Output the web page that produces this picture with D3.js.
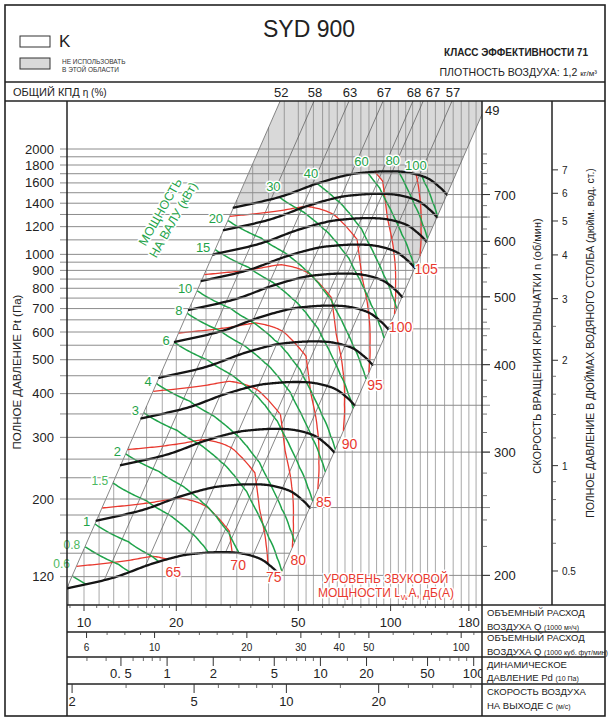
<!DOCTYPE html>
<html>
<head>
<meta charset="utf-8">
<script src="https://cdn.jsdelivr.net/npm/d3@7"></script>
<style>
body { margin: 0; background: #fff; }
text { font-family: "Liberation Sans", Arial, sans-serif; }
</style>
</head>
<body>
<div id="chart"></div>
<script>
// fan curve at 200 rpm: flow (1000 m3/h), total pressure (Pa), shaft power (kW), sound power dB(A)
var baseSpeed = 200;
var baseQ  = [8.8, 12.4, 16.4, 20.6, 23.9, 27.8, 32.3, 37.5, 41.3, 43.6];
var baseP  = [111, 119, 130, 137.5, 140, 141, 140, 135, 127, 121];
var baseW  = [0.53, 0.70, 0.93, 1.19, 1.39, 1.65, 2.02, 2.45, 2.72, 2.88];
var baseLw = [63.1, 63.6, 64.3, 65.6, 66.8, 68.2, 71.2, 73.8, 76.0, 77.6];
var soundSlope = 60;          // dB per decade of speed
var speeds = [200, 250, 300, 350, 400, 450, 500, 550, 600, 650, 700];

// efficiency lines P = k*Q^2
var effLabels = [52, 58, 63, 67, 68, 67, 57, 49];
var effK = [1.44, 0.866, 0.512, 0.307, 0.196, 0.168, 0.109, 0.0636];

var powerLevels = [0.6, 0.8, 1, 1.5, 2, 3, 4, 6, 8, 10, 15, 20, 30, 40, 60, 80, 100];
var soundLevels = [65, 70, 75, 80, 85, 90, 95, 100, 105];

// grey "do not use" zone: above top speed, and right of 100 dB(A) above 550 rpm
var greyLw = 100, greySpeed = 550;

var pressureTicks = [120, 200, 300, 400, 500, 600, 700, 800, 900, 1000, 1200, 1400, 1600, 1800, 2000];
var pressureGrid = [120, 140, 160, 180, 200, 230, 260, 300, 350, 400, 450, 500, 550, 600, 650, 700, 750,
  800, 850, 900, 950, 1000, 1100, 1200, 1300, 1400, 1500, 1600, 1700, 1800, 1900, 2000];
var flowGrid = [8.9, 10, 11.2, 12.5, 14, 16, 18, 20, 22.4, 25, 28, 31.5, 35.5, 40, 45, 50, 53, 56, 60, 63,
  67, 71, 75, 80, 85, 90, 95, 100, 106, 112, 118, 125, 132, 140, 150, 160, 170, 180, 190];
var rpmTicks = [200, 300, 400, 500, 600, 700];
var rpmMinor = [220, 240, 260, 280, 320, 340, 360, 380, 420, 440, 460, 480, 525, 550, 575, 625, 650, 675, 725, 750, 775, 800];
var inchTicks = [0.5, 1, 2, 3, 4, 5, 6, 7];
var inchMinor = [0.6, 0.7, 0.8, 0.9, 1.2, 1.4, 1.6, 1.8, 2.5];
var flowTicks = [10, 20, 50, 100, 180];
var flowMinor = [9, 11, 12, 13, 14, 15, 16, 17, 18, 19, 25, 30, 35, 40, 45, 60, 70, 80, 90, 110, 120, 130, 140, 150, 160, 170, 190];
var cfmTicks = [6, 10, 20, 30, 40, 50, 100];
var cfmMinor = [7, 8, 9, 12, 14, 16, 18, 25, 35, 45, 60, 70, 80, 90, 110];
var pdTicks = [0.5, 1, 2, 5, 10, 20, 50, 100];
var pdLabels = ["0. 5", "1", "2", "5", "10", "20", "50", "100"];
var pdMinor = [0.3, 0.4, 0.6, 0.7, 0.8, 0.9, 1.5, 3, 4, 6, 7, 8, 9, 15, 30, 40, 60, 70, 80, 90];
var velTicks = [2, 5, 10, 20];
var velMinor = [3, 4, 6, 7, 8, 9, 15, 25, 30, 35, 40];
var outletArea = 1.27, airDensity = 1.2, cfmPerM3h = 1.699, inchPa = 249.09;

var GREEN = "#1fa34a", RED = "#e8392f";

var svg = d3.select("#chart").append("svg")
  .attr("width", 609)
  .attr("height", 725);

var plot = {left: 67, right: 482, top: 101, bottom: 605};

var x = d3.scaleLog().domain([10, 100]).range([84, 390.6]);
var y = d3.scaleLog().domain([200, 2000]).range([499, 149]);
var line = d3.line();
function px(d) { return [x(d[0]), y(d[1])]; }

svg.append("clipPath").attr("id", "clip").append("rect")
  .attr("x", plot.left).attr("y", plot.top)
  .attr("width", plot.right - plot.left).attr("height", plot.bottom - plot.top);
svg.append("clipPath").attr("id", "clipStrip").append("rect")
  .attr("x", plot.left).attr("y", plot.bottom)
  .attr("width", plot.right - plot.left).attr("height", 115);
svg.append("clipPath").attr("id", "clipAll").append("rect")
  .attr("x", plot.left).attr("y", plot.top)
  .attr("width", plot.right - plot.left).attr("height", 615);

// smooth base curve (catmull-rom in log space)
var lq = baseQ.map(Math.log10), lp = baseP.map(Math.log10);
function cr(a, i, t) {
  var n = a.length;
  var p0 = i > 0 ? a[i - 1] : 2 * a[0] - a[1];
  var p1 = a[i], p2 = a[i + 1];
  var p3 = i + 2 < n ? a[i + 2] : 2 * a[n - 1] - a[n - 2];
  var t2 = t * t, t3 = t2 * t;
  return 0.5 * (2 * p1 + (-p0 + p2) * t + (2 * p0 - 5 * p1 + 4 * p2 - p3) * t2 + (-p0 + 3 * p1 - 3 * p2 + p3) * t3);
}
var dense = [];
for (var i = 0; i < baseQ.length - 1; i++) {
  for (var j = 0; j < 20; j++) {
    var t = j / 20;
    dense.push({
      q: Math.pow(10, cr(lq, i, t)), p: Math.pow(10, cr(lp, i, t)),
      w: baseW[i] + (baseW[i + 1] - baseW[i]) * t,
      l: baseLw[i] + (baseLw[i + 1] - baseLw[i]) * t
    });
  }
}
var nb = baseQ.length - 1;
dense.push({q: baseQ[nb], p: baseP[nb], w: baseW[nb], l: baseLw[nb]});

var rMax = speeds[speeds.length - 1] / baseSpeed;
var kLeft = effK[0], kRight = effK[effK.length - 1];
var Ptop = y.invert(plot.top);
var Qmax = x.invert(plot.right);

// points of a contour line between the lowest and highest speed
function contourPts(rAt) {
  var pts = [], prev = null;
  dense.forEach(function(d) {
    var r = rAt(d);
    if (prev) {
      [1, rMax].forEach(function(b) {
        if ((prev.r - b) * (r - b) < 0) {
          var f = (b - prev.r) / (r - prev.r);
          var q = Math.pow(10, Math.log10(prev.d.q) + (Math.log10(d.q) - Math.log10(prev.d.q)) * f);
          var p = Math.pow(10, Math.log10(prev.d.p) + (Math.log10(d.p) - Math.log10(prev.d.p)) * f);
          pts.push([q * b, p * b * b]);
        }
      });
    }
    if (r >= 1 && r <= rMax) pts.push([d.q * r, d.p * r * r]);
    prev = {d: d, r: r};
  });
  return pts;
}

var g = svg.append("g").attr("clip-path", "url(#clip)");

// grey zone
var rG = greySpeed / baseSpeed;
var rOfL = function(d) { return Math.pow(10, (greyLw - d.l) / soundSlope); };
var poly = [[Math.sqrt(4000 / kLeft), 4000], [Math.sqrt(4000 / kRight), 4000]];
for (i = dense.length - 1; i >= 0; i--) {
  if (rOfL(dense[i]) <= rG) poly.push([dense[i].q * rG, dense[i].p * rG * rG]); else break;
}
for (i = dense.length - 1; i >= 0; i--) {
  var rr = rOfL(dense[i]);
  if (rr > rG && rr < rMax) poly.push([dense[i].q * rr, dense[i].p * rr * rr]);
}
for (i = dense.length - 1; i >= 0; i--) {
  if (rOfL(dense[i]) >= rMax) poly.push([dense[i].q * rMax, dense[i].p * rMax * rMax]);
}
g.append("path")
  .attr("d", line(poly.map(px)) + "Z")
  .attr("fill", "#d9d9d9");

// vertical flow grid
flowGrid.forEach(function(q) {
  var pTop = Math.min(Ptop, kLeft * q * q);
  g.append("line")
    .attr("x1", x(q)).attr("x2", x(q))
    .attr("y1", y(pTop)).attr("y2", plot.bottom)
    .attr("stroke", "#6f6f6f").attr("stroke-width", 0.6);
});

// horizontal pressure grid (with the left ticks)
pressureGrid.forEach(function(p) {
  svg.append("line")
    .attr("x1", 60).attr("x2", Math.min(plot.right, x(Math.sqrt(p / kRight))))
    .attr("y1", y(p)).attr("y2", y(p))
    .attr("stroke", "#8c8c8c").attr("stroke-width", 1);
});

// lines from each curve end to the speed axis
speeds.forEach(function(n) {
  var r = n / baseSpeed;
  var e = [baseQ[nb] * r, baseP[nb] * r * r];
  svg.append("line")
    .attr("x1", x(e[0])).attr("x2", plot.right + 8)
    .attr("y1", y(e[1])).attr("y2", y(e[1]))
    .attr("stroke", "#8c8c8c").attr("stroke-width", 1);
});

// efficiency diagonals
var effX = [];
effK.forEach(function(k, ei) {
  var start = null;
  for (var a = 1; a < dense.length; a++) {
    var k0 = dense[a - 1].p / (dense[a - 1].q * dense[a - 1].q);
    var k1 = dense[a].p / (dense[a].q * dense[a].q);
    if ((k0 - k) * (k1 - k) <= 0) {
      var f = (k - k0) / (k1 - k0);
      start = [dense[a - 1].q + (dense[a].q - dense[a - 1].q) * f, dense[a - 1].p + (dense[a].p - dense[a - 1].p) * f];
      break;
    }
  }
  if (!start) start = ei === 0 ? [Math.sqrt(90 / k), 90] : [dense[dense.length - 1].q, dense[dense.length - 1].p];
  var end = [Math.sqrt(4000 / k), 4000];
  g.append("path")
    .attr("d", line([start, end].map(px)))
    .attr("stroke", "#555").attr("stroke-width", 0.7).attr("fill", "none");
  effX.push(x(Math.sqrt(Ptop / k)));
});

// sound power contours
var soundPaths = soundLevels.map(function(lv) {
  return {lv: lv, pts: contourPts(function(d) { return Math.pow(10, (lv - d.l) / soundSlope); })};
});
soundPaths.forEach(function(s) {
  g.append("path")
    .attr("d", line(s.pts.map(px)))
    .attr("stroke", RED).attr("stroke-width", 1.3).attr("fill", "none");
});

// shaft power contours
var powerPaths = powerLevels.map(function(wv) {
  return {wv: wv, left: Math.cbrt(wv / dense[0].w) <= rMax,
    pts: contourPts(function(d) { return Math.cbrt(wv / d.w); })};
});
powerPaths.forEach(function(s) {
  g.append("path")
    .attr("d", line(s.pts.map(px)))
    .attr("stroke", GREEN).attr("stroke-width", 1.5).attr("fill", "none");
});

// fan curves
speeds.forEach(function(n) {
  var r = n / baseSpeed;
  g.append("path")
    .attr("d", line(dense.map(function(d) { return px([d.q * r, d.p * r * r]); })))
    .attr("stroke", "#151515").attr("stroke-width", 2.3).attr("fill", "none")
    .attr("stroke-linecap", "round");
});

// faint fan-blade watermark (drawing only)
var wm = svg.append("g").attr("clip-path", "url(#clipAll)")
  .attr("transform", "translate(140,625)").attr("fill", "#000").attr("opacity", 0.045);
d3.range(6).forEach(function(b) {
  wm.append("ellipse").attr("cx", 0).attr("cy", -40).attr("rx", 16).attr("ry", 40)
    .attr("transform", "rotate(" + (b * 60 + 20) + ") skewX(-20)");
});

// labels of contours
function halo(sel) {
  return sel.attr("stroke", "#fff").attr("stroke-width", 3).attr("paint-order", "stroke")
    .attr("stroke-linejoin", "round");
}
powerPaths.forEach(function(s) {
  if (!s.pts.length) return;
  var p0 = px(s.pts[0]);
  var integer = Math.round(s.wv) === s.wv;
  var tx = svg.append("text")
    .attr("fill", integer ? GREEN : "#4cb860")
    .attr("font-size", integer ? 13 : 12)
    .attr("font-family", integer ? null : "'Liberation Serif', 'DejaVu Serif', serif")
    .text(String(s.wv));
  if (s.left) {
    // keep the lowest label clear of the pressure tick labels
    var dy = p0[1] > 560 ? -8 : 2;
    tx.attr("x", Math.max(p0[0] - 5, 70)).attr("y", p0[1] + dy).attr("text-anchor", "end");
  } else {
    tx.attr("x", p0[0] - 6).attr("y", p0[1] - 6).attr("text-anchor", "middle");
  }
  halo(tx);
});
soundPaths.forEach(function(s) {
  if (!s.pts.length) return;
  var pe = px(s.pts[s.pts.length - 1]);
  halo(svg.append("text")
    .attr("x", pe[0] + 6).attr("y", pe[1] + 18).attr("text-anchor", "middle")
    .attr("fill", RED).attr("font-size", 14)
    .text(String(s.lv)));
});

halo(svg.append("text")
  .attr("transform", "translate(164,214) rotate(-60.5)")
  .attr("text-anchor", "middle").attr("font-size", 12.5).attr("fill", GREEN)
  .text("МОЩНОСТЬ"));
halo(svg.append("text")
  .attr("transform", "translate(177,222) rotate(-60.5)")
  .attr("text-anchor", "middle").attr("font-size", 12.5).attr("fill", GREEN)
  .text("НА ВАЛУ (кВт)"));

halo(svg.append("text").attr("x", 386).attr("y", 583).attr("text-anchor", "middle")
  .attr("font-size", 12).attr("fill", RED).text("УРОВЕНЬ ЗВУКОВОЙ"));
var snd2 = halo(svg.append("text").attr("x", 386).attr("y", 597).attr("text-anchor", "middle")
  .attr("font-size", 12).attr("fill", RED));
snd2.append("tspan").text("МОЩНОСТИ L");
snd2.append("tspan").attr("font-size", 8).attr("dy", 3).text("W");
snd2.append("tspan").attr("dy", -3).text("A, дБ(А)");

// efficiency labels along the top
var lastX = -99;
effLabels.forEach(function(lb, ei) {
  if (ei === effLabels.length - 1) {
    var pR = kRight * Qmax * Qmax;
    svg.append("text").attr("x", plot.right + 3).attr("y", y(pR) + 1)
      .attr("font-size", 13).attr("fill", "#222").text(lb);
    return;
  }
  var lx = Math.max(effX[ei] + 1, lastX + 19);
  lastX = lx;
  svg.append("text").attr("x", lx).attr("y", 97).attr("text-anchor", "middle")
    .attr("font-size", 13).attr("fill", "#222").text(lb);
});

// frame
var fr = svg.append("g").attr("stroke", "#222").attr("fill", "none");
fr.append("rect").attr("x", 5).attr("y", 5).attr("width", 600).attr("height", 711).attr("stroke-width", 1.6);
[[5, 82, 605, 82], [5, 101, 605, 101], [67, 101, 67, 716], [482, 101, 482, 716], [552, 101, 552, 605],
 [67, 605, 605, 605], [67, 632, 605, 632], [67, 657, 605, 657], [67, 684, 605, 684]].forEach(function(l) {
  fr.append("line").attr("x1", l[0]).attr("y1", l[1]).attr("x2", l[2]).attr("y2", l[3]).attr("stroke-width", 1.5);
});

// left pressure axis
pressureTicks.forEach(function(p) {
  svg.append("text").attr("x", 54).attr("y", y(p) + 4.5).attr("text-anchor", "end")
    .attr("font-size", 13).attr("fill", "#222").text(p);
});
svg.append("text").attr("transform", "translate(21,372) rotate(-90)").attr("text-anchor", "middle")
  .attr("font-size", 11.5).attr("fill", "#222").text("ПОЛНОЕ ДАВЛЕНИЕ Pt (Па)");

// speed axis
function yRpm(n) { var r = n / baseSpeed; return y(baseP[nb] * r * r); }
rpmMinor.forEach(function(n) {
  svg.append("line").attr("x1", plot.right).attr("x2", plot.right + 5)
    .attr("y1", yRpm(n)).attr("y2", yRpm(n)).attr("stroke", "#555").attr("stroke-width", 0.8);
});
rpmTicks.forEach(function(n) {
  svg.append("line").attr("x1", plot.right).attr("x2", plot.right + 8)
    .attr("y1", yRpm(n)).attr("y2", yRpm(n)).attr("stroke", "#333").attr("stroke-width", 1);
  svg.append("text").attr("x", 494).attr("y", yRpm(n) + 5)
    .attr("font-size", 13).attr("fill", "#222").text(n);
});
svg.append("text").attr("transform", "translate(541,346) rotate(-90)").attr("text-anchor", "middle")
  .attr("font-size", 11).attr("fill", "#222").text("СКОРОСТЬ ВРАЩЕНИЯ КРЫЛЬЧАТКИ  n (об/мин)");

// inch water gauge axis
inchMinor.forEach(function(v) {
  svg.append("line").attr("x1", 552).attr("x2", 556)
    .attr("y1", y(v * inchPa)).attr("y2", y(v * inchPa)).attr("stroke", "#555").attr("stroke-width", 0.8);
});
inchTicks.forEach(function(v) {
  svg.append("line").attr("x1", 552).attr("x2", 558)
    .attr("y1", y(v * inchPa)).attr("y2", y(v * inchPa)).attr("stroke", "#333").attr("stroke-width", 1);
  svg.append("text").attr("x", 562).attr("y", y(v * inchPa) + 4)
    .attr("font-size", 10).attr("fill", "#222").text(v);
});
svg.append("text").attr("transform", "translate(594,343) rotate(-90)").attr("text-anchor", "middle")
  .attr("font-size", 10.5).attr("fill", "#222").text("ПОЛНОЕ ДАВЛЕНИЕ В ДЮЙМАХ ВОДЯНОГО СТОЛБА (дюйм. вод. ст.)");

// bottom strips
var strip = svg.append("g").attr("clip-path", "url(#clipStrip)");
function stripScale(top, majors, minors, toQ, lenMaj, lenMin, labels, ly, fs, family) {
  minors.forEach(function(v) {
    var xx = x(toQ(v));
    strip.append("line").attr("x1", xx).attr("x2", xx).attr("y1", top).attr("y2", top + lenMin)
      .attr("stroke", "#444").attr("stroke-width", 0.8);
  });
  majors.forEach(function(v, k) {
    var xx = x(toQ(v));
    strip.append("line").attr("x1", xx).attr("x2", xx).attr("y1", top).attr("y2", top + lenMaj)
      .attr("stroke", "#333").attr("stroke-width", 1);
    strip.append("text").attr("x", xx).attr("y", ly).attr("text-anchor", "middle")
      .attr("font-size", fs).attr("font-family", family || null).attr("fill", "#222")
      .text(labels ? labels[k] : v);
  });
}
function velToQ(c) { return c * outletArea * 3.6; }
stripScale(605, flowTicks, flowMinor, function(v) { return v; }, 6, 3, null, 627, 13);
stripScale(632, cfmTicks, cfmMinor, function(v) { return v * cfmPerM3h; }, 6, 3, null, 651, 10,
  "'Liberation Sans Narrow', 'DejaVu Sans Condensed', sans-serif");
stripScale(657, pdTicks, pdMinor, function(v) { return velToQ(Math.sqrt(2 * v * 10 / airDensity)); }, 9, 4, pdLabels, 678, 13);
stripScale(684, velTicks, velMinor, velToQ, 9, 4, null, 706, 13);

// strip captions
var caps = [
  [615.5, "ОБЪЕМНЫЙ РАСХОД", ""], [629.5, "ВОЗДУХА Q ", "(1000 м³/ч)"],
  [641, "ОБЪЕМНЫЙ РАСХОД", ""], [654.5, "ВОЗДУХА Q ", "(1000 куб. фут/мин)"],
  [668, "ДИНАМИЧЕСКОЕ", ""], [681, "ДАВЛЕНИЕ Pd ", "(10 Па)"],
  [695, "СКОРОСТЬ ВОЗДУХА", ""], [709, "НА ВЫХОДЕ С ", "(м/с)"]
];
caps.forEach(function(c) {
  var t = svg.append("text").attr("x", 487).attr("y", c[0]).attr("font-size", 9.5).attr("fill", "#222");
  t.append("tspan").text(c[1]);
  if (c[2]) t.append("tspan").attr("font-size", 7).text(c[2]);
});

// header
svg.append("text").attr("x", 309).attr("y", 37).attr("text-anchor", "middle")
  .attr("font-size", 23).attr("fill", "#222").text("SYD 900");
svg.append("rect").attr("x", 20).attr("y", 36).attr("width", 30).attr("height", 11)
  .attr("fill", "#fff").attr("stroke", "#333").attr("stroke-width", 1);
svg.append("text").attr("x", 59).attr("y", 47).attr("font-size", 17).attr("fill", "#222").text("K");
svg.append("rect").attr("x", 20).attr("y", 58).attr("width", 30).attr("height", 11)
  .attr("fill", "#d9d9d9").attr("stroke", "#333").attr("stroke-width", 1);
svg.append("text").attr("x", 62).attr("y", 64).attr("font-size", 6.5).attr("fill", "#333").text("НЕ ИСПОЛЬЗОВАТЬ");
svg.append("text").attr("x", 62).attr("y", 72).attr("font-size", 6.5).attr("fill", "#333").text("В ЭТОЙ ОБЛАСТИ");
svg.append("text").attr("x", 588).attr("y", 56).attr("text-anchor", "end")
  .attr("font-size", 10).attr("font-weight", "bold").attr("fill", "#222").text("КЛАСС ЭФФЕКТИВНОСТИ 71");
var dens = svg.append("text").attr("x", 597).attr("y", 76).attr("text-anchor", "end")
  .attr("font-size", 10.5).attr("fill", "#222");
dens.append("tspan").text("ПЛОТНОСТЬ ВОЗДУХА: 1,2 ");
dens.append("tspan").attr("font-size", 8).text("кг/м³");
var kpd = svg.append("text").attr("x", 13).attr("y", 96).attr("font-size", 11).attr("fill", "#222");
kpd.append("tspan").text("ОБЩИЙ КПД ");
kpd.append("tspan").attr("font-size", 10).text("η (%)");
</script>
</body>
</html>
